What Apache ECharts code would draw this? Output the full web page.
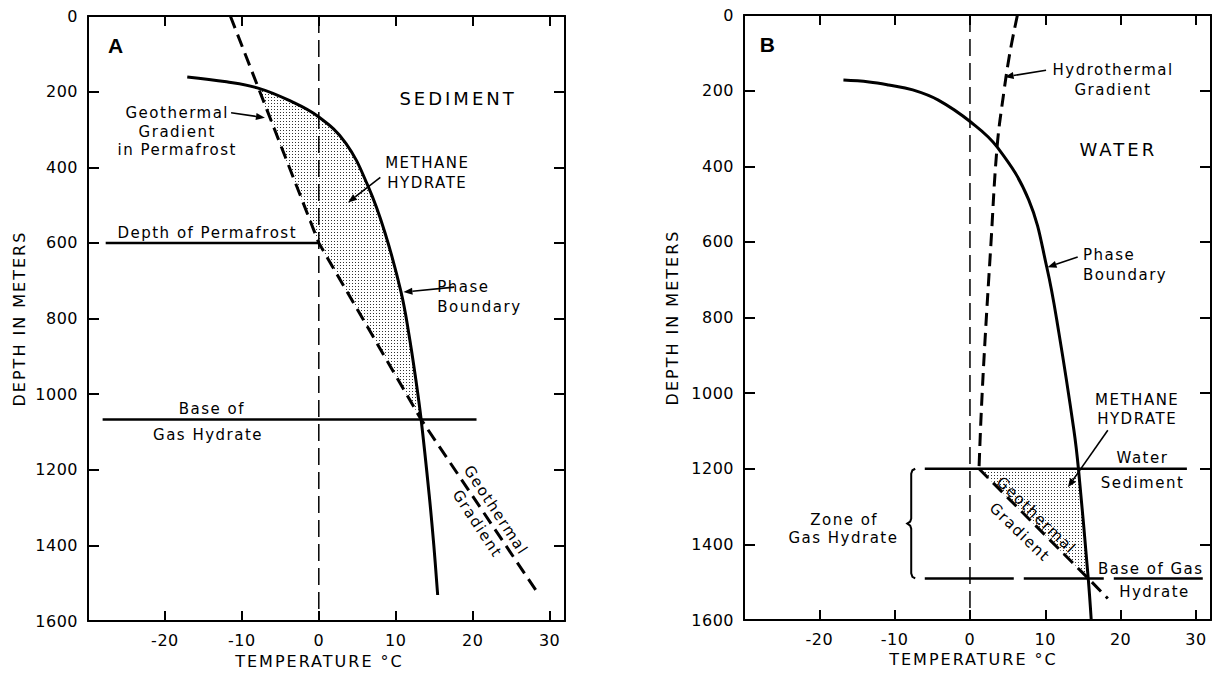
<!DOCTYPE html>
<html><head><meta charset="utf-8">
<script src="https://cdn.jsdelivr.net/npm/echarts@6/dist/echarts.min.js"></script>
<style>
html,body{margin:0;padding:0;background:#fff;}
#c{width:1214px;height:674px;}
#c text{letter-spacing:1.5px;}
#c text[style*="16px"]{letter-spacing:0.5px;}
#c text[style*="Verdana"]{letter-spacing:2px;}
#c text[style*="18px"]{letter-spacing:3px;}
#c text[style*="21px"]{letter-spacing:0;}
</style></head><body><div id="c"></div>
<script>
// ---------- axis ticks / labels ----------
const tempLabels = [-20, -10, 0, 10, 20, 30];
const depthLabels = [0, 200, 400, 600, 800, 1000, 1200, 1400, 1600];

// ---------- Panel A (permafrost) : [temperature °C, depth m] ----------
const phaseA = [[-17.1,161],[-12.0,174],[-8.0,190],[-4.0,222],[0.0,267],[3.5,336],[6.4,450],[8.6,573],[10.7,731],[11.7,840],[12.6,960],[13.3,1067],[14.35,1267],[14.95,1400],[15.45,1531]];
const geoA = [[-11.5,0],[0,600],[13.3,1067],[28.2,1518]];
const zoneA = [[-8.0,190],[-4.0,222],[0.0,267],[3.5,336],[6.4,450],[8.6,573],[10.7,731],[11.7,840],[12.6,960],[13.3,1067],[0,600]];
const permafrostA = [[-27.7,600],[0,600]];
const baseA = [[-28.1,1067],[20.5,1067]];
const zeroA = [[0,0],[0,1600]];

// ---------- Panel B (ocean) ----------
const phaseB = [[-16.8,172],[-13.4,177],[-10.8,185],[-7.6,198],[-4.2,225],[0.1,283],[3.6,349],[7.8,489],[10.2,667],[11.8,840],[13.8,1098],[14.4,1200],[15.7,1490],[16.1,1600]];
const hydroB = [[6.3,0],[5.3,100],[4.5,204],[3.6,349],[2.75,616],[2.0,860],[1.5,1050],[1.2,1200]];
const geoB = [[1.2,1200],[15.7,1490],[18.3,1543]];
const zoneB = [[1.2,1200],[14.4,1200],[15.7,1490]];
const seafloorB = [[-6.0,1200],[28.8,1200]];
const baseB = [[-6.0,1490],[31.2,1490]];
const zeroB = [[0,0],[0,1600]];

// ---------- annotations (data coordinates) ----------
const notesA = [
  {kind:'text', at:[-26.4,79], text:'A', size:21, bold:true, family:'Liberation Sans'},
  {kind:'text', at:[18.1,219], text:'SEDIMENT', size:18},
  {kind:'text', at:[14.1,414], text:'METHANE\nHYDRATE', size:15, lh:20},
  {kind:'arrow', from:[8.0,427], to:[3.8,493]},
  {kind:'text', at:[15.4,743], text:'Phase\nBoundary', size:15, lh:20, align:'left'},
  {kind:'arrow', from:[17.6,717], to:[11.0,730]},
  {kind:'text', at:[-18.4,306], text:'Geothermal\nGradient\nin Permafrost', size:15, lh:18.5},
  {kind:'arrow', from:[-11.4,256], to:[-7.0,269]},
  {kind:'text', at:[-14.5,575], text:'Depth of Permafrost', size:15},
  {kind:'text', at:[-13.9,1038], text:'Base of', size:15},
  {kind:'text', at:[-14.4,1107], text:'Gas Hydrate', size:15},
  {kind:'text', at:[23.0,1307], text:'Geothermal', size:15, rot:-56.7},
  {kind:'text', at:[20.6,1343], text:'Gradient', size:15, rot:-56.7}
];
const notesB = [
  {kind:'text', at:[-26.9,79], text:'B', size:21, bold:true, family:'Liberation Sans'},
  {kind:'text', at:[19.0,172], text:'Hydrothermal\nGradient', size:15, lh:20},
  {kind:'arrow', from:[10.1,146], to:[4.6,164]},
  {kind:'text', at:[19.7,357], text:'WATER', size:18},
  {kind:'text', at:[15.0,661], text:'Phase\nBoundary', size:15, lh:20, align:'left'},
  {kind:'arrow', from:[14.3,640], to:[10.3,667]},
  {kind:'text', at:[22.2,1042], text:'METHANE\nHYDRATE', size:15, lh:19},
  {kind:'arrow', from:[18.3,1098], to:[13.0,1249]},
  {kind:'text', at:[22.9,1172], text:'Water', size:15},
  {kind:'text', at:[22.9,1238], text:'Sediment', size:15},
  {kind:'text', at:[24.0,1466], text:'Base of Gas', size:15},
  {kind:'text', at:[24.5,1526], text:'Hydrate', size:15},
  {kind:'text', at:[-16.7,1336], text:'Zone of', size:15},
  {kind:'text', at:[-16.8,1384], text:'Gas Hydrate', size:15},
  {kind:'brace', top:[-7.8,1200], bottom:[-7.8,1490]},
  {kind:'text', at:[8.8,1323], text:'Geothermal', size:15, rot:-44},
  {kind:'text', at:[6.6,1368], text:'Gradient', size:15, rot:-44}
];

// ---------- helpers ----------
function dotPattern(){
  const c = document.createElement('canvas'); c.width = 3; c.height = 3;
  const g = c.getContext('2d'); g.fillStyle = '#333'; g.fillRect(1,1,1,1);
  return {image: c.toDataURL(), repeat: 'repeat', imageWidth: 3, imageHeight: 3};
}
const pattern = dotPattern();
const FONT = 'DejaVu Sans';

function xAxes(grid, pad){
  const base = {type:'value', gridIndex:grid, min:-30, max:32, interval:10,
    splitLine:{show:false},
    axisLine:{show:true, onZero:false, lineStyle:{color:'#000', width:2}},
    axisTick:{show:true, inside:true, length:10, lineStyle:{color:'#000', width:2}}};
  return [
    Object.assign({}, base, {position:'bottom',
      axisLabel:{show:true, color:'#000', fontFamily:FONT, fontSize:16, margin:11,
        formatter:v => tempLabels.includes(v) ? String(v) : ''},
      name:'TEMPERATURE °C', nameLocation:'middle', nameGap:31,
      nameTextStyle:{color:'#000', fontFamily:"'DejaVu Sans', Verdana", fontSize:16, padding:[0,pad,0,0]}}),
    Object.assign({}, base, {position:'top', axisLabel:{show:false}})
  ];
}
function yAxes(grid, gap){
  const base = {type:'value', gridIndex:grid, min:0, max:1600, interval:200, inverse:true,
    splitLine:{show:false},
    axisLine:{show:true, onZero:false, lineStyle:{color:'#000', width:2}},
    axisTick:{show:true, inside:true, length:11, lineStyle:{color:'#000', width:2}}};
  return [
    Object.assign({}, base, {position:'left',
      axisLabel:{show:true, color:'#000', fontFamily:FONT, fontSize:16, margin:10,
        formatter:v => depthLabels.includes(v) ? String(v) : ''},
      name:'DEPTH IN METERS', nameLocation:'middle', nameGap:gap, nameRotate:90,
      nameTextStyle:{color:'#000', fontFamily:"'DejaVu Sans', Verdana", fontSize:16}}),
    Object.assign({}, base, {position:'right', axisLabel:{show:false}})
  ];
}
function lineSeries(data, xi, width, dash, extra){
  return Object.assign({type:'line', xAxisIndex:xi, yAxisIndex:xi, data:data, symbol:'none',
    silent:true, animation:false, z:3,
    lineStyle:{color:'#000', width:width, type:dash || 'solid', cap:'butt'}}, extra || {});
}
function zoneSeries(points, xi){
  return {type:'custom', xAxisIndex:xi, yAxisIndex:xi, data:[[0,0]], clip:false, silent:true, animation:false, z:1,
    renderItem:(params, api) => ({type:'polygon', shape:{points: points.map(p => api.coord(p))},
      style:{fill: pattern, stroke: null}})};
}
function notesSeries(notes, xi){
  return {type:'custom', xAxisIndex:xi, yAxisIndex:xi, data:[[0,0]], clip:false, silent:true, animation:false, z:5,
    renderItem:(params, api) => {
      const ch = [];
      notes.forEach(n => {
        if (n.kind === 'text'){
          const p = api.coord(n.at);
          ch.push({type:'text', x:p[0], y:p[1], rotation:(n.rot||0)*Math.PI/180,
            style:{text:n.text, fill:'#000', fontFamily:n.family||FONT, fontSize:n.size||15,
              fontWeight:n.bold?'bold':'normal', align:n.align||'center', verticalAlign:'middle', lineHeight:n.lh||19}});
        } else if (n.kind === 'arrow'){
          const a = api.coord(n.from), b = api.coord(n.to);
          const ang = Math.atan2(b[1]-a[1], b[0]-a[0]), L = 9, W = 3.5;
          const bx = b[0]-L*Math.cos(ang), by = b[1]-L*Math.sin(ang);
          ch.push({type:'line', shape:{x1:a[0], y1:a[1], x2:bx, y2:by}, style:{stroke:'#000', lineWidth:1.6}});
          ch.push({type:'polygon', shape:{points:[[b[0],b[1]],[bx+W*Math.sin(ang), by-W*Math.cos(ang)],[bx-W*Math.sin(ang), by+W*Math.cos(ang)]]},
            style:{fill:'#000'}});
        } else if (n.kind === 'brace'){
          const t = api.coord(n.top), b = api.coord(n.bottom);
          const x = t[0], y1 = t[1], y2 = b[1], ym = (y1+y2)/2;
          ch.push({type:'polyline', shape:{points:[[x+4,y1],[x+1.2,y1+1.5],[x,y1+5],[x,ym-5],[x-1,ym-2],[x-4,ym],[x-1,ym+2],[x,ym+5],[x,y2-5],[x+1.2,y2-1.5],[x+4,y2]]},
            style:{stroke:'#000', lineWidth:2, fill:null}});
        }
      });
      return {type:'group', children:ch};
    }};
}

const chart = echarts.init(document.getElementById('c'), null, {renderer:'svg'});
chart.setOption({
  animation:false,
  backgroundColor:'#fff',
  grid:[
    {left:88, top:16, width:477, height:607},
    {left:744, top:15, width:471, height:605}
  ],
  xAxis:[...xAxes(0, 14), ...xAxes(1, 8)],
  yAxis:[...yAxes(0, 61), ...yAxes(1, 64)],
  series:[
    zoneSeries(zoneA, 0),
    lineSeries(zeroA, 0, 1.5, [17,7], {z:2}),
    lineSeries(phaseA, 0, 3, 'solid', {smooth:0.4}),
    lineSeries(geoA, 0, 3, [13,7]),
    lineSeries(permafrostA, 0, 2.5),
    lineSeries(baseA, 0, 2.5),
    notesSeries(notesA, 0),

    zoneSeries(zoneB, 2),
    lineSeries(zeroB, 2, 1.5, [17,7], {z:2}),
    lineSeries(phaseB, 2, 3, 'solid', {smooth:0.4}),
    lineSeries(hydroB, 2, 3, [13,7], {smooth:0.4}),
    lineSeries(geoB, 2, 3, [13,7]),
    lineSeries(seafloorB, 2, 2.5),
    lineSeries(baseB, 2, 2.5, [89,10,80,10]),
    notesSeries(notesB, 2)
  ]
});
</script></body></html>
